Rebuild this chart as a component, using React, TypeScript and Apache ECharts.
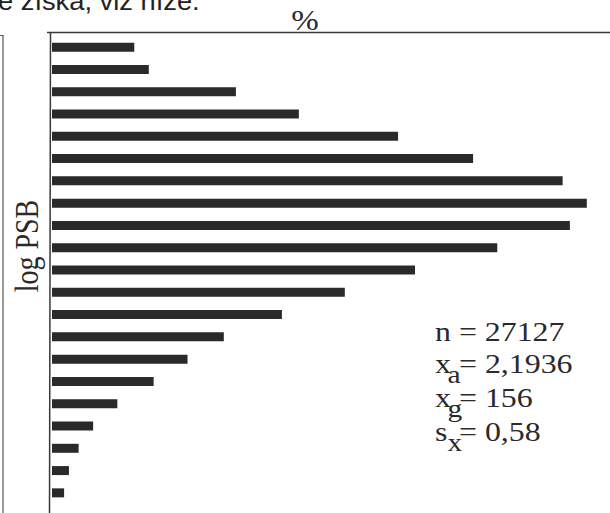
import React, { useEffect, useRef } from "react";
import * as echarts from "echarts";

// log PSB classes (top to bottom) and their share in %
const categories = [
  "1", "2", "3", "4", "5", "6", "7", "8", "9", "10", "11",
  "12", "13", "14", "15", "16", "17", "18", "19", "20", "21",
];
const percentValues = [
  1.7, 2.0, 3.8, 5.1, 7.15, 8.7, 10.55, 11.05, 10.7, 9.2, 7.5,
  6.05, 4.75, 3.55, 2.8, 2.1, 1.35, 0.85, 0.55, 0.35, 0.25,
];
const xAxisName = "%";
const yAxisName = "log PSB";
const headerText = "e získá, viz níže.";
const statLines = [
  { main: "n = 27127", sub: "", rest: "" },
  { main: "x", sub: "a", rest: "= 2,1936" },
  { main: "x", sub: "g", rest: "= 156" },
  { main: "s", sub: "x", rest: "= 0,58" },
];

const SERIF = "'Liberation Serif', 'Times New Roman', serif";
const SANS = "'Liberation Sans', Arial, sans-serif";
const INK = "#2a2a2a";

export default function App() {
  const ref = useRef<HTMLDivElement>(null);

  useEffect(() => {
    if (!ref.current) return;
    const chart = echarts.init(ref.current, undefined, { renderer: "svg" });

    const statBaselines = [341, 373, 407, 441];
    const statFs = 27;
    const subFs = 25;
    const statX = 435;
    const sx = 1.18;
    const statGraphics: any[] = [];
    const mk = (text: string, x: number, y: number, fs: number) => ({
      type: "text",
      x,
      y,
      scaleX: sx,
      style: { text, font: `${fs}px ${SERIF}`, fill: INK, align: "left", verticalAlign: "middle" },
    });
    statLines.forEach((l, i) => {
      const b = statBaselines[i];
      statGraphics.push(mk(l.main, statX, b - 0.35 * statFs, statFs));
      if (l.sub) {
        statGraphics.push(mk(l.sub, 447.5, b + 11 - 0.35 * subFs, subFs));
        statGraphics.push(mk(l.rest, 459, b - 0.35 * statFs, statFs));
      }
    });

    chart.setOption({
      animation: false,
      backgroundColor: "#ffffff",
      grid: { left: 52, right: 1.4, top: 36, height: 468, containLabel: false },
      xAxis: {
        type: "value",
        position: "top",
        min: 0,
        max: 11.5,
        axisLine: { show: false },
        axisTick: { show: false },
        axisLabel: { show: false },
        splitLine: { show: false },
      },
      yAxis: {
        type: "category",
        data: categories,
        inverse: true,
        axisLine: { show: false },
        axisTick: { show: false },
        axisLabel: { show: false },
        splitLine: { show: false },
      },
      series: [
        {
          type: "bar",
          data: percentValues,
          barWidth: 9,
          itemStyle: { color: INK },
        },
      ],
      graphic: [
        // header fragment of surrounding text
        {
          type: "text",
          x: -2,
          y: 10.5 - 0.35 * 26,
          scaleX: 1.05,
          style: { text: headerText, font: `26px ${SANS}`, fill: "#222", align: "left", verticalAlign: "middle" },
        },
        // frame lines
        { type: "line", shape: { x1: 47, y1: 32.5, x2: 610, y2: 32.5 }, style: { stroke: "#3a3a3a", lineWidth: 1.5 } },
        { type: "line", shape: { x1: 50.5, y1: 32.5, x2: 49.5, y2: 513 }, style: { stroke: "#3a3a3a", lineWidth: 1.5 } },
        { type: "polyline", shape: { points: [[0, 35.5], [3, 35.5], [3, 513]] }, style: { stroke: "#555", lineWidth: 1.2, fill: "none" } },
        // axis names
        {
          type: "text",
          x: 305,
          y: 31 - 0.35 * 30,
          scaleX: 1.1,
          style: { text: xAxisName, font: `30px ${SERIF}`, fill: INK, align: "center", verticalAlign: "middle" },
        },
        {
          type: "text",
          x: 27,
          y: 246,
          rotation: Math.PI / 2,
          scaleY: 1.2,
          style: { text: yAxisName, font: `28px ${SERIF}`, fill: INK, align: "center", verticalAlign: "middle" },
        },
        ...statGraphics,
      ],
    });

    return () => chart.dispose();
  }, []);

  return (
    <div
      ref={ref}
      style={{ position: "fixed", left: 0, top: 0, width: 610, height: 513 }}
    />
  );
}
